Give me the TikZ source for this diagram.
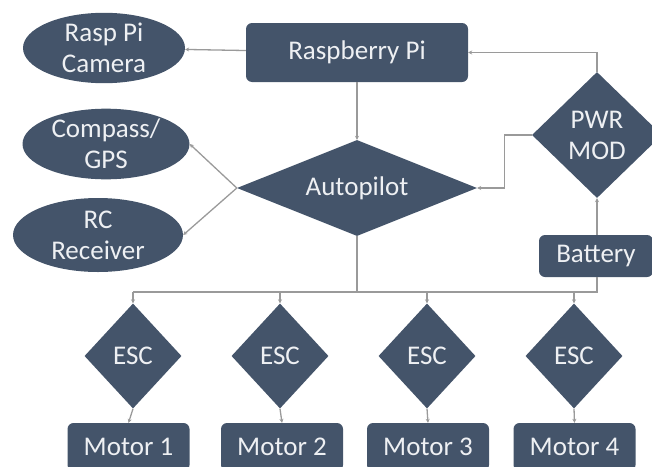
\documentclass[tikz,border=0pt]{standalone}
\usepackage{fontspec}
\setmainfont{Carlito}
\usetikzlibrary{shapes.geometric,arrows.meta}
\definecolor{slate}{HTML}{44546A}
\definecolor{wiregray}{HTML}{9A9A9A}
\definecolor{paletext}{HTML}{EEF0F3}
\begin{document}
\begin{tikzpicture}[x=1pt,y=-1pt,
        blk/.style={fill=slate,text=paletext,font=\fontsize{27}{31}\selectfont,
            align=center,inner sep=0pt},
        box/.style={blk,rectangle,rounded corners=6pt},
        oval/.style={blk,ellipse},
        dia/.style={blk,diamond},
        ln/.style={draw=wiregray,line width=1.3pt},
        arr/.style={ln,-{Stealth[length=4pt,width=4pt]}}]
\useasboundingbox (0,0) rectangle (652,466);

% top row
\node[oval,minimum width=162pt,minimum height=70pt] (cam) at (104,48) {Rasp Pi\\Camera};
\node[box,minimum width=222pt,minimum height=59pt] (rpi) at (357,52.5) {Raspberry Pi};

% left side
\node[oval,minimum width=167pt,minimum height=68pt] (gps) at (106,144) {Compass/\\GPS};
\node[oval,minimum width=170pt,minimum height=74pt] (rc) at (98,235) {RC\\Receiver};

% middle
\node[dia,aspect=2.5,minimum width=240pt,minimum height=96pt] (auto) at (357,188) {Autopilot};

% power
\node[dia,minimum width=130pt,minimum height=126pt] (pwr) at (597,135) {PWR\\MOD};
\node[box,minimum width=114pt,minimum height=42pt] (bat) at (596,256) {Battery};

% esc and motors
\foreach \i/\x/\mx in {1/133/128.5, 2/280/282, 3/427/428, 4/574/574.5} {
    \node[dia,minimum width=97pt,minimum height=105pt] (esc\i) at (\x,356) {ESC};
    \node[box,minimum width=122pt,minimum height=48pt] (mot\i) at (\mx,447) {Motor \i};
}
\coordinate (bus) at (357,292);

% connectors
\draw[arr] (rpi) -- (cam);
\draw[arr] (rpi) -- (auto);
\draw[arr] (auto.west) -- (gps.east);
\draw[arr] (auto.west) -- (rc.east);
\draw[arr] (pwr.north) |- (rpi.east);
\draw[arr] (pwr.west) -- ++(-27,0) |- (auto.east);
\draw[arr] (pwr.south |- bat.north) -- (pwr.south);
\draw[ln] (auto.south) -- (bus);
\draw[ln] (pwr.south |- bat.south) |- (esc1.north |- bus);
\foreach \i in {1,...,4} {
    \draw[arr] (esc\i.north |- bus) -- (esc\i.north);
    \draw[arr] (esc\i.south) -- (mot\i.north);
}

\end{tikzpicture}
\end{document}
